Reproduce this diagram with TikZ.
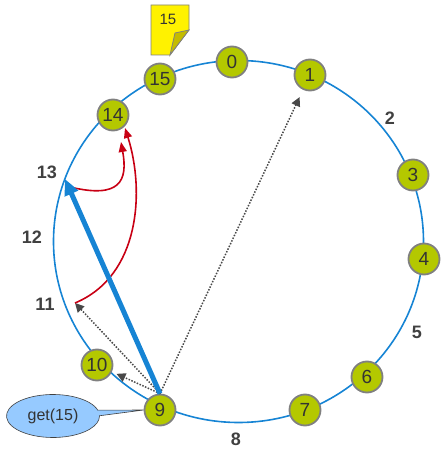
\documentclass[tikz,border=0pt]{standalone}
\usepackage{fontspec}
\setmainfont{Liberation Sans}
\usetikzlibrary{arrows.meta,shapes.callouts}

\definecolor{ringblue}{RGB}{22,132,212}
\definecolor{peergreen}{RGB}{180,200,0}
\definecolor{peeredge}{RGB}{128,128,128}
\definecolor{slotgray}{RGB}{64,64,64}
\definecolor{hopgray}{RGB}{72,72,72}
\definecolor{fingerred}{RGB}{200,0,20}
\definecolor{askblue}{RGB}{150,202,255}
\definecolor{notefold}{RGB}{196,188,0}

\tikzset{
  peer/.style={circle, draw=peeredge, line width=1.8pt, fill=peergreen,
    minimum size=31pt, inner sep=0pt, text=black!80,
    font=\fontsize{19}{19}\selectfont},
  slot/.style={text=slotgray, font=\bfseries\fontsize{18}{18}\selectfont},
  hop/.style={draw=hopgray, line width=1.5pt, dash pattern=on 1.5pt off 1.5pt,
    -{Triangle[length=9pt,width=9pt]}},
  finger/.style={draw=fingerred, line width=1.6pt,
    -{Triangle[length=10pt,width=8pt]}},
}

\begin{document}
\begin{tikzpicture}[x=1pt,y=1pt]
    \useasboundingbox (0,0) rectangle (441,451);

    % anneau
    \draw[ringblue, line width=1.6pt] (238.5,209.5) ellipse [x radius=185, y radius=181];

    % pairs
    \node[peer] (n0)  at (232,389) {0};
    \node[peer] (n1)  at (310,376) {1};
    \node[peer] (n3)  at (413,276) {3};
    \node[peer] (n4)  at (424,192) {4};
    \node[peer] (n6)  at (367,74)  {6};
    \node[peer] (n7)  at (305,41)  {7};
    \node[peer] (n9)  at (160,41)  {9};
    \node[peer] (n10) at (97,86)   {10};
    \node[peer] (n14) at (113,336) {14};
    \node[peer] (n15) at (160,372) {15};

    % identifiants libres
    \node[slot] (s2)  at (390,333) {2};
    \node[slot] (s5)  at (417,119) {5};
    \node[slot] (s8)  at (236,12)  {8};
    \node[slot] (s11) at (45,147)  {11};
    \node[slot] (s12) at (32,214)  {12};
    \node[slot] (s13) at (47,279)  {13};

    \coordinate (p11) at (75,148);
    \coordinate (p13) at (65,272);
    \coordinate (q13) at (70,264);

    % cle 15
    \draw[peeredge, line width=0.8pt, fill=yellow] (151,446) -- (189,446) -- (189,421) -- (170,396) -- (151,396) -- cycle;
    \draw[peeredge, line width=0.8pt, fill=notefold] (170,396) -- (175,418) -- (189,421) -- cycle;
    \node[font=\fontsize{15}{15}\selectfont, text=black!80] (key) at (168,432) {15};

    % requete
    \node[ellipse callout, draw=slotgray, fill=askblue, line width=0.6pt,
      minimum width=93pt, minimum height=43pt, text=black!80,
      font=\fontsize{16}{16}\selectfont,
      callout absolute pointer={(n9.west)}] (ask) at (53,35) {get(15)};

    % sauts
    \draw[hop, shorten >=8pt] (n9.north) -- (n1);
    \draw[hop] (n9.north) -- (p11);
    \draw[hop, shorten >=5pt] (n9.north) -- (n10);
    \draw[finger] (p11) .. controls (140,175) and (145,260) .. (125,323);
    \draw[finger] (q13) .. controls (120,252) and (128,270) .. (121,309);
    \draw[ringblue, line width=5pt, -{Triangle[length=16pt,width=14pt]}] (n9.north) -- (p13);
\end{tikzpicture}
\end{document}
